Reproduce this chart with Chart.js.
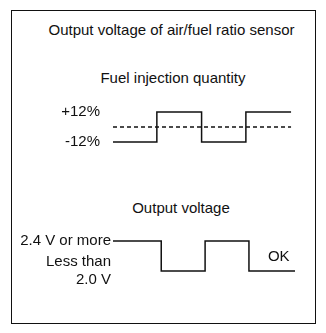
<!DOCTYPE html>
<html>
<head>
<meta charset="utf-8">
<script src="https://cdn.jsdelivr.net/npm/chart.js@4"></script>
<style>
    body { margin: 0; background: #fff; font-family: "Liberation Sans", Arial, sans-serif; }
    #page { position: relative; width: 326px; height: 333px; }
    .frame { position: absolute; left: 11px; top: 10px; width: 305px; height: 314px; border: 1px solid #111; box-sizing: border-box; }
    .title { position: absolute; left: 0; font-size: 15px; line-height: 18px; text-align: center; color: #111; white-space: nowrap; }
    canvas { position: absolute; left: 0; }
</style>
</head>
<body>
<div id="page">
    <div class="frame"></div>
    <div class="title" style="top:21px; width:343px;">Output voltage of air/fuel ratio sensor</div>
    <div class="title" style="top:69px; width:346px;">Fuel injection quantity</div>
    <div class="title" style="top:199px; width:362px;">Output voltage</div>
    <canvas id="fuelChart" width="326" height="50" style="top:102px"></canvas>
    <canvas id="voltChart" width="326" height="75" style="top:226px"></canvas>
</div>
<script>
/**------------------------------------------------------------------------------------------------  DATA  */
// time axis is arbitrary, one unit = one half cycle
const fuelTime = [0, 1, 2.02, 3.03, 4.06];
const fuelValues = [-12, 12, -12, 12, 12];
const fuelTicks = [12, -12];
const fuelTickLabels = ['+12%', '-12%'];
const stoichTime = [0, 4.06];
const stoichValues = [0, 0];

const voltTime = [0, 1.1, 2.1, 3.1, 4.15];
const voltValues = [2.4, 2.0, 2.4, 2.0, 2.0];
const voltTicks = [2.4, 2.0];
const voltTickLabels = ['2.4 V or more', ['Less than', '2.0 V']];
const judgement = 'OK';

/**------------------------------------------------------------------------------------------------  CHARTS  */
const FONT = { family: '"Liberation Sans", Arial, sans-serif', size: 15 };
const INK = '#111';

const toPoints = (xs, ys) => xs.map((x, i) => ({ x: x, y: ys[i] }));

const okLabel = {
    id: 'okLabel',
    afterDatasetsDraw: (chart, args, opts) => {
        if (!opts.text) return;
        const ctx = chart.ctx;
        ctx.save();
        ctx.font = FONT.size + 'px ' + FONT.family;
        ctx.fillStyle = INK;
        ctx.textAlign = 'center';
        ctx.textBaseline = 'middle';
        ctx.fillText(opts.text, chart.scales.x.getPixelForValue(opts.x), chart.scales.y.getPixelForValue(opts.y));
        ctx.restore();
    }
};

let charts = {
    init: function () {
        this.create('fuelChart', {
            datasets: [{
                data: toPoints(fuelTime, fuelValues),
                stepped: 'before'
            }, {
                data: toPoints(stoichTime, stoichValues),
                borderDash: [4, 3],
                borderWidth: 1.3
            }],
            min: -20, max: 20,
            ticks: fuelTicks, labels: fuelTickLabels, padding: 13
        });
        this.create('voltChart', {
            datasets: [{
                data: toPoints(voltTime, voltValues),
                stepped: 'before'
            }],
            min: 1.6, max: 2.6,
            ticks: voltTicks, labels: voltTickLabels, padding: 2,
            ok: { text: judgement, x: 3.78, y: 2.19 }
        });
    },
    create: (id, cfg) => {
        const config = {
            type: 'line',
            data: {
                datasets: cfg.datasets.map(d => Object.assign({
                    borderColor: INK,
                    borderWidth: 1.5,
                    pointRadius: 0,
                    fill: false
                }, d))
            },
            options: {
                responsive: false,
                animation: false,
                layout: { padding: { left: 0, right: 31, top: 0, bottom: 0 } },
                scales: {
                    x: {
                        type: 'linear',
                        min: 0,
                        max: 4.15,
                        display: false
                    },
                    y: {
                        min: cfg.min,
                        max: cfg.max,
                        grid: { display: false, drawTicks: false },
                        border: { display: false },
                        afterBuildTicks: (scale) => {
                            scale.ticks = cfg.ticks.map(v => ({ value: v }));
                        },
                        afterFit: (scale) => {
                            scale.width = 113;
                            scale.paddingTop = 0;
                            scale.paddingBottom = 0;
                        },
                        ticks: {
                            color: INK,
                            font: FONT,
                            padding: cfg.padding,
                            autoSkip: false,
                            callback: (value, index) => cfg.labels[index]
                        }
                    }
                },
                plugins: {
                    legend: { display: false },
                    tooltip: { enabled: false },
                    okLabel: cfg.ok || {}
                }
            },
            plugins: [okLabel]
        };

        new Chart(document.getElementById(id), config);
    }
};

charts.init();
</script>
</body>
</html>
